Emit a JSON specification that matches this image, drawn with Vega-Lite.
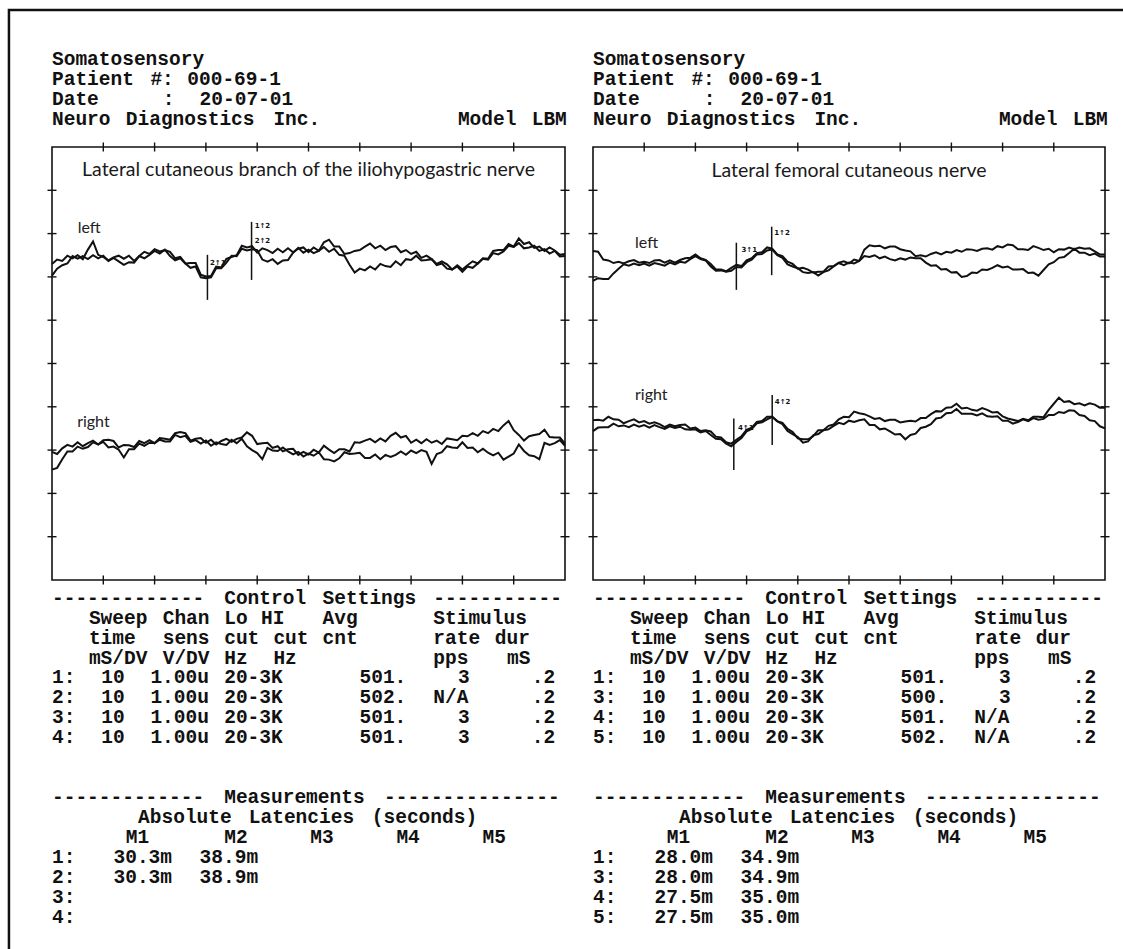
{
"$schema": "https://vega.github.io/schema/vega-lite/v6.json",
"width": 1114, "height": 939,
"autosize": {"type": "none"},
"padding": {"left": 9, "top": 10, "right": 0, "bottom": 0},
"background": "white",
"config": {"view": {"stroke": null}},
"datasets": {
"txt": [
{"p":"L","n":0,"c":0,"s":"Somatosensory"},
{"p":"L","n":1,"c":0,"s":"Patient"},{"p":"L","n":1,"c":8,"s":"#:"},{"p":"L","n":1,"c":11,"s":"000-69-1"},
{"p":"L","n":2,"c":0,"s":"Date"},{"p":"L","n":2,"c":9,"s":":"},{"p":"L","n":2,"c":12,"s":"20-07-01"},
{"p":"L","n":3,"c":0,"s":"Neuro"},{"p":"L","n":3,"c":6,"s":"Diagnostics"},{"p":"L","n":3,"c":18,"s":"Inc."},{"p":"L","n":3,"c":33,"s":"Model"},{"p":"L","n":3,"c":39,"s":"LBM"},
{"p":"L","n":27,"c":0,"s":"-------------"},{"p":"L","n":27,"c":14,"s":"Control"},{"p":"L","n":27,"c":22,"s":"Settings"},{"p":"L","n":27,"c":31,"s":"-----------"},
{"p":"L","n":28,"c":3,"s":"Sweep"},{"p":"L","n":28,"c":9,"s":"Chan"},{"p":"L","n":28,"c":14,"s":"Lo"},{"p":"L","n":28,"c":17,"s":"HI"},{"p":"L","n":28,"c":22,"s":"Avg"},{"p":"L","n":28,"c":31,"s":"Stimulus"},
{"p":"L","n":29,"c":3,"s":"time"},{"p":"L","n":29,"c":9,"s":"sens"},{"p":"L","n":29,"c":14,"s":"cut"},{"p":"L","n":29,"c":18,"s":"cut"},{"p":"L","n":29,"c":22,"s":"cnt"},{"p":"L","n":29,"c":31,"s":"rate"},{"p":"L","n":29,"c":36,"s":"dur"},
{"p":"L","n":30,"c":3,"s":"mS/DV"},{"p":"L","n":30,"c":9,"s":"V/DV"},{"p":"L","n":30,"c":14,"s":"Hz"},{"p":"L","n":30,"c":18,"s":"Hz"},{"p":"L","n":30,"c":31,"s":"pps"},{"p":"L","n":30,"c":37,"s":"mS"},
{"p":"L","n":31,"c":0,"s":"1:"},{"p":"L","n":31,"c":4,"s":"10"},{"p":"L","n":31,"c":8,"s":"1.00u"},{"p":"L","n":31,"c":14,"s":"20-3K"},{"p":"L","n":31,"c":25,"s":"501."},{"p":"L","n":31,"c":33,"s":"3"},{"p":"L","n":31,"c":39,"s":".2"},
{"p":"L","n":32,"c":0,"s":"2:"},{"p":"L","n":32,"c":4,"s":"10"},{"p":"L","n":32,"c":8,"s":"1.00u"},{"p":"L","n":32,"c":14,"s":"20-3K"},{"p":"L","n":32,"c":25,"s":"502."},{"p":"L","n":32,"c":31,"s":"N/A"},{"p":"L","n":32,"c":39,"s":".2"},
{"p":"L","n":33,"c":0,"s":"3:"},{"p":"L","n":33,"c":4,"s":"10"},{"p":"L","n":33,"c":8,"s":"1.00u"},{"p":"L","n":33,"c":14,"s":"20-3K"},{"p":"L","n":33,"c":25,"s":"501."},{"p":"L","n":33,"c":33,"s":"3"},{"p":"L","n":33,"c":39,"s":".2"},
{"p":"L","n":34,"c":0,"s":"4:"},{"p":"L","n":34,"c":4,"s":"10"},{"p":"L","n":34,"c":8,"s":"1.00u"},{"p":"L","n":34,"c":14,"s":"20-3K"},{"p":"L","n":34,"c":25,"s":"501."},{"p":"L","n":34,"c":33,"s":"3"},{"p":"L","n":34,"c":39,"s":".2"},
{"p":"L","n":37,"c":0,"s":"-------------"},{"p":"L","n":37,"c":14,"s":"Measurements"},{"p":"L","n":37,"c":27,"s":"---------------"},
{"p":"L","n":38,"c":7,"s":"Absolute"},{"p":"L","n":38,"c":16,"s":"Latencies"},{"p":"L","n":38,"c":26,"s":"(seconds)"},
{"p":"L","n":39,"c":6,"s":"M1"},{"p":"L","n":39,"c":14,"s":"M2"},{"p":"L","n":39,"c":21,"s":"M3"},{"p":"L","n":39,"c":28,"s":"M4"},{"p":"L","n":39,"c":35,"s":"M5"},
{"p":"L","n":40,"c":0,"s":"1:"},{"p":"L","n":40,"c":5,"s":"30.3m"},{"p":"L","n":40,"c":12,"s":"38.9m"},
{"p":"L","n":41,"c":0,"s":"2:"},{"p":"L","n":41,"c":5,"s":"30.3m"},{"p":"L","n":41,"c":12,"s":"38.9m"},
{"p":"L","n":42,"c":0,"s":"3:"},
{"p":"L","n":43,"c":0,"s":"4:"},
{"p":"R","n":0,"c":0,"s":"Somatosensory"},
{"p":"R","n":1,"c":0,"s":"Patient"},{"p":"R","n":1,"c":8,"s":"#:"},{"p":"R","n":1,"c":11,"s":"000-69-1"},
{"p":"R","n":2,"c":0,"s":"Date"},{"p":"R","n":2,"c":9,"s":":"},{"p":"R","n":2,"c":12,"s":"20-07-01"},
{"p":"R","n":3,"c":0,"s":"Neuro"},{"p":"R","n":3,"c":6,"s":"Diagnostics"},{"p":"R","n":3,"c":18,"s":"Inc."},{"p":"R","n":3,"c":33,"s":"Model"},{"p":"R","n":3,"c":39,"s":"LBM"},
{"p":"R","n":27,"c":0,"s":"-------------"},{"p":"R","n":27,"c":14,"s":"Control"},{"p":"R","n":27,"c":22,"s":"Settings"},{"p":"R","n":27,"c":31,"s":"-----------"},
{"p":"R","n":28,"c":3,"s":"Sweep"},{"p":"R","n":28,"c":9,"s":"Chan"},{"p":"R","n":28,"c":14,"s":"Lo"},{"p":"R","n":28,"c":17,"s":"HI"},{"p":"R","n":28,"c":22,"s":"Avg"},{"p":"R","n":28,"c":31,"s":"Stimulus"},
{"p":"R","n":29,"c":3,"s":"time"},{"p":"R","n":29,"c":9,"s":"sens"},{"p":"R","n":29,"c":14,"s":"cut"},{"p":"R","n":29,"c":18,"s":"cut"},{"p":"R","n":29,"c":22,"s":"cnt"},{"p":"R","n":29,"c":31,"s":"rate"},{"p":"R","n":29,"c":36,"s":"dur"},
{"p":"R","n":30,"c":3,"s":"mS/DV"},{"p":"R","n":30,"c":9,"s":"V/DV"},{"p":"R","n":30,"c":14,"s":"Hz"},{"p":"R","n":30,"c":18,"s":"Hz"},{"p":"R","n":30,"c":31,"s":"pps"},{"p":"R","n":30,"c":37,"s":"mS"},
{"p":"R","n":31,"c":0,"s":"1:"},{"p":"R","n":31,"c":4,"s":"10"},{"p":"R","n":31,"c":8,"s":"1.00u"},{"p":"R","n":31,"c":14,"s":"20-3K"},{"p":"R","n":31,"c":25,"s":"501."},{"p":"R","n":31,"c":33,"s":"3"},{"p":"R","n":31,"c":39,"s":".2"},
{"p":"R","n":32,"c":0,"s":"3:"},{"p":"R","n":32,"c":4,"s":"10"},{"p":"R","n":32,"c":8,"s":"1.00u"},{"p":"R","n":32,"c":14,"s":"20-3K"},{"p":"R","n":32,"c":25,"s":"500."},{"p":"R","n":32,"c":33,"s":"3"},{"p":"R","n":32,"c":39,"s":".2"},
{"p":"R","n":33,"c":0,"s":"4:"},{"p":"R","n":33,"c":4,"s":"10"},{"p":"R","n":33,"c":8,"s":"1.00u"},{"p":"R","n":33,"c":14,"s":"20-3K"},{"p":"R","n":33,"c":25,"s":"501."},{"p":"R","n":33,"c":31,"s":"N/A"},{"p":"R","n":33,"c":39,"s":".2"},
{"p":"R","n":34,"c":0,"s":"5:"},{"p":"R","n":34,"c":4,"s":"10"},{"p":"R","n":34,"c":8,"s":"1.00u"},{"p":"R","n":34,"c":14,"s":"20-3K"},{"p":"R","n":34,"c":25,"s":"502."},{"p":"R","n":34,"c":31,"s":"N/A"},{"p":"R","n":34,"c":39,"s":".2"},
{"p":"R","n":37,"c":0,"s":"-------------"},{"p":"R","n":37,"c":14,"s":"Measurements"},{"p":"R","n":37,"c":27,"s":"---------------"},
{"p":"R","n":38,"c":7,"s":"Absolute"},{"p":"R","n":38,"c":16,"s":"Latencies"},{"p":"R","n":38,"c":26,"s":"(seconds)"},
{"p":"R","n":39,"c":6,"s":"M1"},{"p":"R","n":39,"c":14,"s":"M2"},{"p":"R","n":39,"c":21,"s":"M3"},{"p":"R","n":39,"c":28,"s":"M4"},{"p":"R","n":39,"c":35,"s":"M5"},
{"p":"R","n":40,"c":0,"s":"1:"},{"p":"R","n":40,"c":5,"s":"28.0m"},{"p":"R","n":40,"c":12,"s":"34.9m"},
{"p":"R","n":41,"c":0,"s":"3:"},{"p":"R","n":41,"c":5,"s":"28.0m"},{"p":"R","n":41,"c":12,"s":"34.9m"},
{"p":"R","n":42,"c":0,"s":"4:"},{"p":"R","n":42,"c":5,"s":"27.5m"},{"p":"R","n":42,"c":12,"s":"35.0m"},
{"p":"R","n":43,"c":0,"s":"5:"},{"p":"R","n":43,"c":5,"s":"27.5m"},{"p":"R","n":43,"c":12,"s":"35.0m"}
],
"page": [{"c0":-3.5,"c1":95,"n0":-2.46,"n1":50}],
"tdiv": [{"t":10},{"t":20},{"t":30},{"t":40},{"t":50},{"t":60},{"t":70},{"t":80},{"t":90}],
"vdiv": [{"v":-4},{"v":-3},{"v":-2},{"v":-1},{"v":0},{"v":1},{"v":2},{"v":3},{"v":4}],
"frame": [{"t0":0,"t1":100,"v0":-5,"v1":5}],
"wl": [
{"s":"a","t":0,"v":2.30},{"s":"a","t":1,"v":2.40},{"s":"a","t":2,"v":2.37},{"s":"a","t":3,"v":2.49},{"s":"a","t":4,"v":2.43},{"s":"a","t":5,"v":2.50},{"s":"a","t":6,"v":2.41},{"s":"a","t":7,"v":2.63},{"s":"a","t":8,"v":2.82},{"s":"a","t":9,"v":2.51},{"s":"a","t":10,"v":2.46},{"s":"a","t":11,"v":2.38},{"s":"a","t":12,"v":2.45},{"s":"a","t":13,"v":2.49},{"s":"a","t":14,"v":2.42},{"s":"a","t":15,"v":2.49},{"s":"a","t":16,"v":2.37},{"s":"a","t":17,"v":2.48},{"s":"a","t":18,"v":2.58},{"s":"a","t":19,"v":2.53},{"s":"a","t":20,"v":2.64},{"s":"a","t":21,"v":2.59},{"s":"a","t":22,"v":2.62},{"s":"a","t":23,"v":2.58},{"s":"a","t":24,"v":2.43},{"s":"a","t":25,"v":2.46},{"s":"a","t":26,"v":2.31},{"s":"a","t":27,"v":2.32},{"s":"a","t":28,"v":2.32},{"s":"a","t":29,"v":2.05},{"s":"a","t":30,"v":2.01},{"s":"a","t":31,"v":2.02},{"s":"a","t":32,"v":2.24},{"s":"a","t":33,"v":2.22},{"s":"a","t":34,"v":2.42},{"s":"a","t":35,"v":2.46},{"s":"a","t":36,"v":2.50},{"s":"a","t":37,"v":2.72},{"s":"a","t":38,"v":2.68},{"s":"a","t":39,"v":2.71},{"s":"a","t":40,"v":2.56},{"s":"a","t":41,"v":2.66},{"s":"a","t":42,"v":2.62},{"s":"a","t":43,"v":2.55},{"s":"a","t":44,"v":2.65},{"s":"a","t":45,"v":2.57},{"s":"a","t":46,"v":2.66},{"s":"a","t":47,"v":2.57},{"s":"a","t":48,"v":2.65},{"s":"a","t":49,"v":2.68},{"s":"a","t":50,"v":2.57},{"s":"a","t":51,"v":2.68},{"s":"a","t":52,"v":2.60},{"s":"a","t":53,"v":2.80},{"s":"a","t":54,"v":2.86},{"s":"a","t":55,"v":2.70},{"s":"a","t":56,"v":2.70},{"s":"a","t":57,"v":2.53},{"s":"a","t":58,"v":2.55},{"s":"a","t":59,"v":2.60},{"s":"a","t":60,"v":2.62},{"s":"a","t":61,"v":2.70},{"s":"a","t":62,"v":2.77},{"s":"a","t":63,"v":2.66},{"s":"a","t":64,"v":2.72},{"s":"a","t":65,"v":2.62},{"s":"a","t":66,"v":2.69},{"s":"a","t":67,"v":2.71},{"s":"a","t":68,"v":2.57},{"s":"a","t":69,"v":2.62},{"s":"a","t":70,"v":2.53},{"s":"a","t":71,"v":2.58},{"s":"a","t":72,"v":2.44},{"s":"a","t":73,"v":2.49},{"s":"a","t":74,"v":2.41},{"s":"a","t":75,"v":2.30},{"s":"a","t":76,"v":2.36},{"s":"a","t":77,"v":2.29},{"s":"a","t":78,"v":2.17},{"s":"a","t":79,"v":2.27},{"s":"a","t":80,"v":2.17},{"s":"a","t":81,"v":2.27},{"s":"a","t":82,"v":2.36},{"s":"a","t":83,"v":2.31},{"s":"a","t":84,"v":2.43},{"s":"a","t":85,"v":2.42},{"s":"a","t":86,"v":2.60},{"s":"a","t":87,"v":2.62},{"s":"a","t":88,"v":2.62},{"s":"a","t":89,"v":2.76},{"s":"a","t":90,"v":2.70},{"s":"a","t":91,"v":2.89},{"s":"a","t":92,"v":2.76},{"s":"a","t":93,"v":2.80},{"s":"a","t":94,"v":2.67},{"s":"a","t":95,"v":2.70},{"s":"a","t":96,"v":2.60},{"s":"a","t":97,"v":2.68},{"s":"a","t":98,"v":2.61},{"s":"a","t":99,"v":2.51},{"s":"a","t":100,"v":2.53},
{"s":"b","t":0,"v":2.03},{"s":"b","t":1,"v":2.19},{"s":"b","t":2,"v":2.27},{"s":"b","t":3,"v":2.31},{"s":"b","t":4,"v":2.48},{"s":"b","t":5,"v":2.42},{"s":"b","t":6,"v":2.48},{"s":"b","t":7,"v":2.41},{"s":"b","t":8,"v":2.50},{"s":"b","t":9,"v":2.43},{"s":"b","t":10,"v":2.49},{"s":"b","t":11,"v":2.37},{"s":"b","t":12,"v":2.44},{"s":"b","t":13,"v":2.36},{"s":"b","t":14,"v":2.28},{"s":"b","t":15,"v":2.34},{"s":"b","t":16,"v":2.33},{"s":"b","t":17,"v":2.48},{"s":"b","t":18,"v":2.43},{"s":"b","t":19,"v":2.51},{"s":"b","t":20,"v":2.60},{"s":"b","t":21,"v":2.54},{"s":"b","t":22,"v":2.63},{"s":"b","t":23,"v":2.48},{"s":"b","t":24,"v":2.38},{"s":"b","t":25,"v":2.43},{"s":"b","t":26,"v":2.31},{"s":"b","t":27,"v":2.21},{"s":"b","t":28,"v":2.24},{"s":"b","t":29,"v":1.99},{"s":"b","t":30,"v":1.97},{"s":"b","t":31,"v":1.99},{"s":"b","t":32,"v":2.20},{"s":"b","t":33,"v":2.20},{"s":"b","t":34,"v":2.33},{"s":"b","t":35,"v":2.49},{"s":"b","t":36,"v":2.48},{"s":"b","t":37,"v":2.65},{"s":"b","t":38,"v":2.61},{"s":"b","t":39,"v":2.64},{"s":"b","t":40,"v":2.62},{"s":"b","t":41,"v":2.40},{"s":"b","t":42,"v":2.35},{"s":"b","t":43,"v":2.41},{"s":"b","t":44,"v":2.30},{"s":"b","t":45,"v":2.38},{"s":"b","t":46,"v":2.39},{"s":"b","t":47,"v":2.56},{"s":"b","t":48,"v":2.67},{"s":"b","t":49,"v":2.56},{"s":"b","t":50,"v":2.63},{"s":"b","t":51,"v":2.55},{"s":"b","t":52,"v":2.60},{"s":"b","t":53,"v":2.69},{"s":"b","t":54,"v":2.58},{"s":"b","t":55,"v":2.65},{"s":"b","t":56,"v":2.51},{"s":"b","t":57,"v":2.49},{"s":"b","t":58,"v":2.28},{"s":"b","t":59,"v":2.10},{"s":"b","t":60,"v":2.19},{"s":"b","t":61,"v":2.15},{"s":"b","t":62,"v":2.24},{"s":"b","t":63,"v":2.17},{"s":"b","t":64,"v":2.30},{"s":"b","t":65,"v":2.25},{"s":"b","t":66,"v":2.23},{"s":"b","t":67,"v":2.36},{"s":"b","t":68,"v":2.27},{"s":"b","t":69,"v":2.41},{"s":"b","t":70,"v":2.39},{"s":"b","t":71,"v":2.49},{"s":"b","t":72,"v":2.38},{"s":"b","t":73,"v":2.39},{"s":"b","t":74,"v":2.41},{"s":"b","t":75,"v":2.27},{"s":"b","t":76,"v":2.31},{"s":"b","t":77,"v":2.19},{"s":"b","t":78,"v":2.17},{"s":"b","t":79,"v":2.24},{"s":"b","t":80,"v":2.12},{"s":"b","t":81,"v":2.24},{"s":"b","t":82,"v":2.21},{"s":"b","t":83,"v":2.31},{"s":"b","t":84,"v":2.42},{"s":"b","t":85,"v":2.40},{"s":"b","t":86,"v":2.55},{"s":"b","t":87,"v":2.52},{"s":"b","t":88,"v":2.59},{"s":"b","t":89,"v":2.72},{"s":"b","t":90,"v":2.69},{"s":"b","t":91,"v":2.78},{"s":"b","t":92,"v":2.66},{"s":"b","t":93,"v":2.68},{"s":"b","t":94,"v":2.72},{"s":"b","t":95,"v":2.60},{"s":"b","t":96,"v":2.64},{"s":"b","t":97,"v":2.54},{"s":"b","t":98,"v":2.60},{"s":"b","t":99,"v":2.47},{"s":"b","t":100,"v":2.48},
{"s":"c","t":0,"v":-2.04},{"s":"c","t":1,"v":-2.09},{"s":"c","t":2,"v":-1.96},{"s":"c","t":3,"v":-1.88},{"s":"c","t":4,"v":-1.92},{"s":"c","t":5,"v":-1.82},{"s":"c","t":6,"v":-1.91},{"s":"c","t":7,"v":-1.84},{"s":"c","t":8,"v":-1.78},{"s":"c","t":9,"v":-1.87},{"s":"c","t":10,"v":-1.77},{"s":"c","t":11,"v":-1.76},{"s":"c","t":12,"v":-1.79},{"s":"c","t":13,"v":-1.94},{"s":"c","t":14,"v":-1.88},{"s":"c","t":15,"v":-1.89},{"s":"c","t":16,"v":-1.93},{"s":"c","t":17,"v":-1.79},{"s":"c","t":18,"v":-1.84},{"s":"c","t":19,"v":-1.77},{"s":"c","t":20,"v":-1.84},{"s":"c","t":21,"v":-1.72},{"s":"c","t":22,"v":-1.74},{"s":"c","t":23,"v":-1.76},{"s":"c","t":24,"v":-1.61},{"s":"c","t":25,"v":-1.58},{"s":"c","t":26,"v":-1.61},{"s":"c","t":27,"v":-1.78},{"s":"c","t":28,"v":-1.74},{"s":"c","t":29,"v":-1.72},{"s":"c","t":30,"v":-1.83},{"s":"c","t":31,"v":-1.76},{"s":"c","t":32,"v":-1.87},{"s":"c","t":33,"v":-1.79},{"s":"c","t":34,"v":-1.74},{"s":"c","t":35,"v":-1.81},{"s":"c","t":36,"v":-1.74},{"s":"c","t":37,"v":-1.71},{"s":"c","t":38,"v":-1.59},{"s":"c","t":39,"v":-1.67},{"s":"c","t":40,"v":-1.86},{"s":"c","t":41,"v":-1.84},{"s":"c","t":42,"v":-1.83},{"s":"c","t":43,"v":-1.95},{"s":"c","t":44,"v":-1.91},{"s":"c","t":45,"v":-2.03},{"s":"c","t":46,"v":-1.98},{"s":"c","t":47,"v":-1.97},{"s":"c","t":48,"v":-2.11},{"s":"c","t":49,"v":-2.04},{"s":"c","t":50,"v":-2.10},{"s":"c","t":51,"v":-1.99},{"s":"c","t":52,"v":-2.06},{"s":"c","t":53,"v":-1.90},{"s":"c","t":54,"v":-1.99},{"s":"c","t":55,"v":-2.07},{"s":"c","t":56,"v":-1.98},{"s":"c","t":57,"v":-1.98},{"s":"c","t":58,"v":-2.03},{"s":"c","t":59,"v":-1.82},{"s":"c","t":60,"v":-1.83},{"s":"c","t":61,"v":-1.78},{"s":"c","t":62,"v":-1.74},{"s":"c","t":63,"v":-1.82},{"s":"c","t":64,"v":-1.73},{"s":"c","t":65,"v":-1.80},{"s":"c","t":66,"v":-1.67},{"s":"c","t":67,"v":-1.60},{"s":"c","t":68,"v":-1.71},{"s":"c","t":69,"v":-1.67},{"s":"c","t":70,"v":-1.83},{"s":"c","t":71,"v":-1.76},{"s":"c","t":72,"v":-1.84},{"s":"c","t":73,"v":-1.75},{"s":"c","t":74,"v":-1.83},{"s":"c","t":75,"v":-1.78},{"s":"c","t":76,"v":-1.86},{"s":"c","t":77,"v":-1.73},{"s":"c","t":78,"v":-1.75},{"s":"c","t":79,"v":-1.77},{"s":"c","t":80,"v":-1.67},{"s":"c","t":81,"v":-1.68},{"s":"c","t":82,"v":-1.61},{"s":"c","t":83,"v":-1.67},{"s":"c","t":84,"v":-1.56},{"s":"c","t":85,"v":-1.61},{"s":"c","t":86,"v":-1.51},{"s":"c","t":87,"v":-1.56},{"s":"c","t":88,"v":-1.43},{"s":"c","t":89,"v":-1.33},{"s":"c","t":90,"v":-1.54},{"s":"c","t":91,"v":-1.65},{"s":"c","t":92,"v":-1.78},{"s":"c","t":93,"v":-1.68},{"s":"c","t":94,"v":-1.65},{"s":"c","t":95,"v":-1.63},{"s":"c","t":96,"v":-1.53},{"s":"c","t":97,"v":-1.70},{"s":"c","t":98,"v":-1.71},{"s":"c","t":99,"v":-1.71},{"s":"c","t":100,"v":-1.85},
{"s":"d","t":0,"v":-2.45},{"s":"d","t":1,"v":-2.41},{"s":"d","t":2,"v":-2.21},{"s":"d","t":3,"v":-2.03},{"s":"d","t":4,"v":-2.03},{"s":"d","t":5,"v":-1.92},{"s":"d","t":6,"v":-1.97},{"s":"d","t":7,"v":-1.93},{"s":"d","t":8,"v":-1.82},{"s":"d","t":9,"v":-1.87},{"s":"d","t":10,"v":-1.81},{"s":"d","t":11,"v":-1.94},{"s":"d","t":12,"v":-1.92},{"s":"d","t":13,"v":-1.99},{"s":"d","t":14,"v":-2.17},{"s":"d","t":15,"v":-1.98},{"s":"d","t":16,"v":-1.98},{"s":"d","t":17,"v":-1.85},{"s":"d","t":18,"v":-1.90},{"s":"d","t":19,"v":-1.83},{"s":"d","t":20,"v":-1.84},{"s":"d","t":21,"v":-1.76},{"s":"d","t":22,"v":-1.80},{"s":"d","t":23,"v":-1.80},{"s":"d","t":24,"v":-1.65},{"s":"d","t":25,"v":-1.70},{"s":"d","t":26,"v":-1.67},{"s":"d","t":27,"v":-1.81},{"s":"d","t":28,"v":-1.77},{"s":"d","t":29,"v":-1.85},{"s":"d","t":30,"v":-1.78},{"s":"d","t":31,"v":-1.90},{"s":"d","t":32,"v":-1.82},{"s":"d","t":33,"v":-1.86},{"s":"d","t":34,"v":-1.88},{"s":"d","t":35,"v":-1.76},{"s":"d","t":36,"v":-1.84},{"s":"d","t":37,"v":-1.74},{"s":"d","t":38,"v":-1.91},{"s":"d","t":39,"v":-2.00},{"s":"d","t":40,"v":-2.07},{"s":"d","t":41,"v":-2.21},{"s":"d","t":42,"v":-1.95},{"s":"d","t":43,"v":-2.01},{"s":"d","t":44,"v":-2.02},{"s":"d","t":45,"v":-1.94},{"s":"d","t":46,"v":-2.03},{"s":"d","t":47,"v":-2.10},{"s":"d","t":48,"v":-2.04},{"s":"d","t":49,"v":-2.15},{"s":"d","t":50,"v":-2.08},{"s":"d","t":51,"v":-2.13},{"s":"d","t":52,"v":-2.05},{"s":"d","t":53,"v":-2.21},{"s":"d","t":54,"v":-2.22},{"s":"d","t":55,"v":-2.26},{"s":"d","t":56,"v":-2.19},{"s":"d","t":57,"v":-2.05},{"s":"d","t":58,"v":-2.09},{"s":"d","t":59,"v":-2.08},{"s":"d","t":60,"v":-2.06},{"s":"d","t":61,"v":-2.18},{"s":"d","t":62,"v":-2.18},{"s":"d","t":63,"v":-2.10},{"s":"d","t":64,"v":-2.21},{"s":"d","t":65,"v":-2.11},{"s":"d","t":66,"v":-2.16},{"s":"d","t":67,"v":-2.11},{"s":"d","t":68,"v":-2.03},{"s":"d","t":69,"v":-2.11},{"s":"d","t":70,"v":-2.01},{"s":"d","t":71,"v":-2.07},{"s":"d","t":72,"v":-2.00},{"s":"d","t":73,"v":-2.04},{"s":"d","t":74,"v":-2.32},{"s":"d","t":75,"v":-2.09},{"s":"d","t":76,"v":-2.05},{"s":"d","t":77,"v":-1.91},{"s":"d","t":78,"v":-1.94},{"s":"d","t":79,"v":-1.95},{"s":"d","t":80,"v":-1.82},{"s":"d","t":81,"v":-1.95},{"s":"d","t":82,"v":-1.94},{"s":"d","t":83,"v":-2.05},{"s":"d","t":84,"v":-1.97},{"s":"d","t":85,"v":-2.06},{"s":"d","t":86,"v":-2.12},{"s":"d","t":87,"v":-2.06},{"s":"d","t":88,"v":-2.22},{"s":"d","t":89,"v":-2.15},{"s":"d","t":90,"v":-2.08},{"s":"d","t":91,"v":-1.87},{"s":"d","t":92,"v":-2.02},{"s":"d","t":93,"v":-2.12},{"s":"d","t":94,"v":-2.14},{"s":"d","t":95,"v":-2.21},{"s":"d","t":96,"v":-1.83},{"s":"d","t":97,"v":-1.88},{"s":"d","t":98,"v":-1.84},{"s":"d","t":99,"v":-1.77},{"s":"d","t":100,"v":-1.90}
],
"wr": [
{"s":"a","t":0,"v":2.60},{"s":"a","t":1,"v":2.58},{"s":"a","t":2,"v":2.40},{"s":"a","t":3,"v":2.38},{"s":"a","t":4,"v":2.32},{"s":"a","t":5,"v":2.35},{"s":"a","t":6,"v":2.31},{"s":"a","t":7,"v":2.36},{"s":"a","t":8,"v":2.39},{"s":"a","t":9,"v":2.33},{"s":"a","t":10,"v":2.35},{"s":"a","t":11,"v":2.32},{"s":"a","t":12,"v":2.38},{"s":"a","t":13,"v":2.39},{"s":"a","t":14,"v":2.33},{"s":"a","t":15,"v":2.38},{"s":"a","t":16,"v":2.33},{"s":"a","t":17,"v":2.39},{"s":"a","t":18,"v":2.43},{"s":"a","t":19,"v":2.44},{"s":"a","t":20,"v":2.52},{"s":"a","t":21,"v":2.43},{"s":"a","t":22,"v":2.39},{"s":"a","t":23,"v":2.30},{"s":"a","t":24,"v":2.17},{"s":"a","t":25,"v":2.17},{"s":"a","t":26,"v":2.13},{"s":"a","t":27,"v":2.21},{"s":"a","t":28,"v":2.28},{"s":"a","t":29,"v":2.25},{"s":"a","t":30,"v":2.38},{"s":"a","t":31,"v":2.43},{"s":"a","t":32,"v":2.55},{"s":"a","t":33,"v":2.57},{"s":"a","t":34,"v":2.68},{"s":"a","t":35,"v":2.65},{"s":"a","t":36,"v":2.52},{"s":"a","t":37,"v":2.48},{"s":"a","t":38,"v":2.35},{"s":"a","t":39,"v":2.30},{"s":"a","t":40,"v":2.19},{"s":"a","t":41,"v":2.21},{"s":"a","t":42,"v":2.17},{"s":"a","t":43,"v":2.10},{"s":"a","t":44,"v":2.12},{"s":"a","t":45,"v":2.12},{"s":"a","t":46,"v":2.24},{"s":"a","t":47,"v":2.25},{"s":"a","t":48,"v":2.33},{"s":"a","t":49,"v":2.36},{"s":"a","t":50,"v":2.31},{"s":"a","t":51,"v":2.40},{"s":"a","t":52,"v":2.37},{"s":"a","t":53,"v":2.63},{"s":"a","t":54,"v":2.73},{"s":"a","t":55,"v":2.71},{"s":"a","t":56,"v":2.72},{"s":"a","t":57,"v":2.66},{"s":"a","t":58,"v":2.70},{"s":"a","t":59,"v":2.70},{"s":"a","t":60,"v":2.64},{"s":"a","t":61,"v":2.61},{"s":"a","t":62,"v":2.59},{"s":"a","t":63,"v":2.48},{"s":"a","t":64,"v":2.50},{"s":"a","t":65,"v":2.47},{"s":"a","t":66,"v":2.53},{"s":"a","t":67,"v":2.57},{"s":"a","t":68,"v":2.52},{"s":"a","t":69,"v":2.58},{"s":"a","t":70,"v":2.56},{"s":"a","t":71,"v":2.62},{"s":"a","t":72,"v":2.58},{"s":"a","t":73,"v":2.64},{"s":"a","t":74,"v":2.63},{"s":"a","t":75,"v":2.60},{"s":"a","t":76,"v":2.65},{"s":"a","t":77,"v":2.66},{"s":"a","t":78,"v":2.63},{"s":"a","t":79,"v":2.71},{"s":"a","t":80,"v":2.68},{"s":"a","t":81,"v":2.75},{"s":"a","t":82,"v":2.73},{"s":"a","t":83,"v":2.64},{"s":"a","t":84,"v":2.64},{"s":"a","t":85,"v":2.62},{"s":"a","t":86,"v":2.71},{"s":"a","t":87,"v":2.67},{"s":"a","t":88,"v":2.62},{"s":"a","t":89,"v":2.65},{"s":"a","t":90,"v":2.57},{"s":"a","t":91,"v":2.64},{"s":"a","t":92,"v":2.63},{"s":"a","t":93,"v":2.68},{"s":"a","t":94,"v":2.64},{"s":"a","t":95,"v":2.68},{"s":"a","t":96,"v":2.65},{"s":"a","t":97,"v":2.66},{"s":"a","t":98,"v":2.59},{"s":"a","t":99,"v":2.52},{"s":"a","t":100,"v":2.52},
{"s":"b","t":0,"v":1.91},{"s":"b","t":1,"v":1.97},{"s":"b","t":2,"v":1.95},{"s":"b","t":3,"v":1.95},{"s":"b","t":4,"v":2.08},{"s":"b","t":5,"v":2.19},{"s":"b","t":6,"v":2.29},{"s":"b","t":7,"v":2.26},{"s":"b","t":8,"v":2.31},{"s":"b","t":9,"v":2.27},{"s":"b","t":10,"v":2.31},{"s":"b","t":11,"v":2.26},{"s":"b","t":12,"v":2.32},{"s":"b","t":13,"v":2.29},{"s":"b","t":14,"v":2.26},{"s":"b","t":15,"v":2.33},{"s":"b","t":16,"v":2.29},{"s":"b","t":17,"v":2.35},{"s":"b","t":18,"v":2.33},{"s":"b","t":19,"v":2.41},{"s":"b","t":20,"v":2.48},{"s":"b","t":21,"v":2.41},{"s":"b","t":22,"v":2.38},{"s":"b","t":23,"v":2.24},{"s":"b","t":24,"v":2.14},{"s":"b","t":25,"v":2.15},{"s":"b","t":26,"v":2.12},{"s":"b","t":27,"v":2.14},{"s":"b","t":28,"v":2.23},{"s":"b","t":29,"v":2.22},{"s":"b","t":30,"v":2.34},{"s":"b","t":31,"v":2.40},{"s":"b","t":32,"v":2.52},{"s":"b","t":33,"v":2.53},{"s":"b","t":34,"v":2.61},{"s":"b","t":35,"v":2.63},{"s":"b","t":36,"v":2.50},{"s":"b","t":37,"v":2.44},{"s":"b","t":38,"v":2.29},{"s":"b","t":39,"v":2.24},{"s":"b","t":40,"v":2.20},{"s":"b","t":41,"v":2.11},{"s":"b","t":42,"v":2.09},{"s":"b","t":43,"v":2.11},{"s":"b","t":44,"v":2.03},{"s":"b","t":45,"v":2.11},{"s":"b","t":46,"v":2.15},{"s":"b","t":47,"v":2.24},{"s":"b","t":48,"v":2.32},{"s":"b","t":49,"v":2.27},{"s":"b","t":50,"v":2.33},{"s":"b","t":51,"v":2.31},{"s":"b","t":52,"v":2.37},{"s":"b","t":53,"v":2.48},{"s":"b","t":54,"v":2.46},{"s":"b","t":55,"v":2.50},{"s":"b","t":56,"v":2.43},{"s":"b","t":57,"v":2.47},{"s":"b","t":58,"v":2.41},{"s":"b","t":59,"v":2.38},{"s":"b","t":60,"v":2.43},{"s":"b","t":61,"v":2.40},{"s":"b","t":62,"v":2.45},{"s":"b","t":63,"v":2.43},{"s":"b","t":64,"v":2.43},{"s":"b","t":65,"v":2.33},{"s":"b","t":66,"v":2.26},{"s":"b","t":67,"v":2.27},{"s":"b","t":68,"v":2.17},{"s":"b","t":69,"v":2.18},{"s":"b","t":70,"v":2.10},{"s":"b","t":71,"v":2.11},{"s":"b","t":72,"v":2.00},{"s":"b","t":73,"v":2.02},{"s":"b","t":74,"v":2.10},{"s":"b","t":75,"v":2.09},{"s":"b","t":76,"v":2.17},{"s":"b","t":77,"v":2.16},{"s":"b","t":78,"v":2.21},{"s":"b","t":79,"v":2.27},{"s":"b","t":80,"v":2.22},{"s":"b","t":81,"v":2.24},{"s":"b","t":82,"v":2.17},{"s":"b","t":83,"v":2.17},{"s":"b","t":84,"v":2.18},{"s":"b","t":85,"v":2.09},{"s":"b","t":86,"v":2.10},{"s":"b","t":87,"v":2.03},{"s":"b","t":88,"v":2.16},{"s":"b","t":89,"v":2.29},{"s":"b","t":90,"v":2.34},{"s":"b","t":91,"v":2.44},{"s":"b","t":92,"v":2.46},{"s":"b","t":93,"v":2.55},{"s":"b","t":94,"v":2.65},{"s":"b","t":95,"v":2.56},{"s":"b","t":96,"v":2.56},{"s":"b","t":97,"v":2.50},{"s":"b","t":98,"v":2.54},{"s":"b","t":99,"v":2.47},{"s":"b","t":100,"v":2.47},
{"s":"c","t":0,"v":-1.31},{"s":"c","t":1,"v":-1.30},{"s":"c","t":2,"v":-1.32},{"s":"c","t":3,"v":-1.23},{"s":"c","t":4,"v":-1.29},{"s":"c","t":5,"v":-1.30},{"s":"c","t":6,"v":-1.38},{"s":"c","t":7,"v":-1.33},{"s":"c","t":8,"v":-1.29},{"s":"c","t":9,"v":-1.36},{"s":"c","t":10,"v":-1.33},{"s":"c","t":11,"v":-1.39},{"s":"c","t":12,"v":-1.36},{"s":"c","t":13,"v":-1.40},{"s":"c","t":14,"v":-1.47},{"s":"c","t":15,"v":-1.41},{"s":"c","t":16,"v":-1.45},{"s":"c","t":17,"v":-1.42},{"s":"c","t":18,"v":-1.41},{"s":"c","t":19,"v":-1.50},{"s":"c","t":20,"v":-1.48},{"s":"c","t":21,"v":-1.56},{"s":"c","t":22,"v":-1.54},{"s":"c","t":23,"v":-1.57},{"s":"c","t":24,"v":-1.69},{"s":"c","t":25,"v":-1.71},{"s":"c","t":26,"v":-1.82},{"s":"c","t":27,"v":-1.85},{"s":"c","t":28,"v":-1.76},{"s":"c","t":29,"v":-1.68},{"s":"c","t":30,"v":-1.53},{"s":"c","t":31,"v":-1.48},{"s":"c","t":32,"v":-1.35},{"s":"c","t":33,"v":-1.33},{"s":"c","t":34,"v":-1.23},{"s":"c","t":35,"v":-1.23},{"s":"c","t":36,"v":-1.33},{"s":"c","t":37,"v":-1.37},{"s":"c","t":38,"v":-1.51},{"s":"c","t":39,"v":-1.58},{"s":"c","t":40,"v":-1.73},{"s":"c","t":41,"v":-1.75},{"s":"c","t":42,"v":-1.75},{"s":"c","t":43,"v":-1.68},{"s":"c","t":44,"v":-1.54},{"s":"c","t":45,"v":-1.54},{"s":"c","t":46,"v":-1.44},{"s":"c","t":47,"v":-1.41},{"s":"c","t":48,"v":-1.29},{"s":"c","t":49,"v":-1.23},{"s":"c","t":50,"v":-1.24},{"s":"c","t":51,"v":-1.11},{"s":"c","t":52,"v":-1.15},{"s":"c","t":53,"v":-1.17},{"s":"c","t":54,"v":-1.22},{"s":"c","t":55,"v":-1.28},{"s":"c","t":56,"v":-1.26},{"s":"c","t":57,"v":-1.33},{"s":"c","t":58,"v":-1.30},{"s":"c","t":59,"v":-1.30},{"s":"c","t":60,"v":-1.36},{"s":"c","t":61,"v":-1.34},{"s":"c","t":62,"v":-1.32},{"s":"c","t":63,"v":-1.34},{"s":"c","t":64,"v":-1.26},{"s":"c","t":65,"v":-1.26},{"s":"c","t":66,"v":-1.17},{"s":"c","t":67,"v":-1.10},{"s":"c","t":68,"v":-1.11},{"s":"c","t":69,"v":-1.02},{"s":"c","t":70,"v":-1.01},{"s":"c","t":71,"v":-0.93},{"s":"c","t":72,"v":-1.04},{"s":"c","t":73,"v":-1.02},{"s":"c","t":74,"v":-1.07},{"s":"c","t":75,"v":-1.09},{"s":"c","t":76,"v":-1.03},{"s":"c","t":77,"v":-1.07},{"s":"c","t":78,"v":-1.13},{"s":"c","t":79,"v":-1.12},{"s":"c","t":80,"v":-1.22},{"s":"c","t":81,"v":-1.27},{"s":"c","t":82,"v":-1.30},{"s":"c","t":83,"v":-1.33},{"s":"c","t":84,"v":-1.28},{"s":"c","t":85,"v":-1.31},{"s":"c","t":86,"v":-1.23},{"s":"c","t":87,"v":-1.23},{"s":"c","t":88,"v":-1.24},{"s":"c","t":89,"v":-1.07},{"s":"c","t":90,"v":-0.93},{"s":"c","t":91,"v":-0.79},{"s":"c","t":92,"v":-0.89},{"s":"c","t":93,"v":-0.87},{"s":"c","t":94,"v":-0.94},{"s":"c","t":95,"v":-0.92},{"s":"c","t":96,"v":-0.97},{"s":"c","t":97,"v":-0.92},{"s":"c","t":98,"v":-0.95},{"s":"c","t":99,"v":-1.02},{"s":"c","t":100,"v":-1.02},
{"s":"d","t":0,"v":-1.56},{"s":"d","t":1,"v":-1.48},{"s":"d","t":2,"v":-1.47},{"s":"d","t":3,"v":-1.47},{"s":"d","t":4,"v":-1.39},{"s":"d","t":5,"v":-1.45},{"s":"d","t":6,"v":-1.43},{"s":"d","t":7,"v":-1.47},{"s":"d","t":8,"v":-1.41},{"s":"d","t":9,"v":-1.46},{"s":"d","t":10,"v":-1.42},{"s":"d","t":11,"v":-1.48},{"s":"d","t":12,"v":-1.42},{"s":"d","t":13,"v":-1.47},{"s":"d","t":14,"v":-1.51},{"s":"d","t":15,"v":-1.45},{"s":"d","t":16,"v":-1.49},{"s":"d","t":17,"v":-1.46},{"s":"d","t":18,"v":-1.52},{"s":"d","t":19,"v":-1.53},{"s":"d","t":20,"v":-1.52},{"s":"d","t":21,"v":-1.59},{"s":"d","t":22,"v":-1.56},{"s":"d","t":23,"v":-1.65},{"s":"d","t":24,"v":-1.74},{"s":"d","t":25,"v":-1.75},{"s":"d","t":26,"v":-1.85},{"s":"d","t":27,"v":-1.91},{"s":"d","t":28,"v":-1.81},{"s":"d","t":29,"v":-1.72},{"s":"d","t":30,"v":-1.57},{"s":"d","t":31,"v":-1.51},{"s":"d","t":32,"v":-1.38},{"s":"d","t":33,"v":-1.36},{"s":"d","t":34,"v":-1.29},{"s":"d","t":35,"v":-1.23},{"s":"d","t":36,"v":-1.34},{"s":"d","t":37,"v":-1.40},{"s":"d","t":38,"v":-1.56},{"s":"d","t":39,"v":-1.63},{"s":"d","t":40,"v":-1.70},{"s":"d","t":41,"v":-1.83},{"s":"d","t":42,"v":-1.80},{"s":"d","t":43,"v":-1.66},{"s":"d","t":44,"v":-1.63},{"s":"d","t":45,"v":-1.54},{"s":"d","t":46,"v":-1.52},{"s":"d","t":47,"v":-1.44},{"s":"d","t":48,"v":-1.37},{"s":"d","t":49,"v":-1.40},{"s":"d","t":50,"v":-1.32},{"s":"d","t":51,"v":-1.35},{"s":"d","t":52,"v":-1.31},{"s":"d","t":53,"v":-1.29},{"s":"d","t":54,"v":-1.42},{"s":"d","t":55,"v":-1.42},{"s":"d","t":56,"v":-1.52},{"s":"d","t":57,"v":-1.50},{"s":"d","t":58,"v":-1.57},{"s":"d","t":59,"v":-1.64},{"s":"d","t":60,"v":-1.63},{"s":"d","t":61,"v":-1.75},{"s":"d","t":62,"v":-1.65},{"s":"d","t":63,"v":-1.62},{"s":"d","t":64,"v":-1.49},{"s":"d","t":65,"v":-1.46},{"s":"d","t":66,"v":-1.40},{"s":"d","t":67,"v":-1.27},{"s":"d","t":68,"v":-1.25},{"s":"d","t":69,"v":-1.15},{"s":"d","t":70,"v":-1.14},{"s":"d","t":71,"v":-1.05},{"s":"d","t":72,"v":-1.16},{"s":"d","t":73,"v":-1.16},{"s":"d","t":74,"v":-1.16},{"s":"d","t":75,"v":-1.20},{"s":"d","t":76,"v":-1.15},{"s":"d","t":77,"v":-1.22},{"s":"d","t":78,"v":-1.23},{"s":"d","t":79,"v":-1.22},{"s":"d","t":80,"v":-1.32},{"s":"d","t":81,"v":-1.32},{"s":"d","t":82,"v":-1.39},{"s":"d","t":83,"v":-1.35},{"s":"d","t":84,"v":-1.29},{"s":"d","t":85,"v":-1.33},{"s":"d","t":86,"v":-1.26},{"s":"d","t":87,"v":-1.30},{"s":"d","t":88,"v":-1.28},{"s":"d","t":89,"v":-1.19},{"s":"d","t":90,"v":-1.19},{"s":"d","t":91,"v":-1.12},{"s":"d","t":92,"v":-1.14},{"s":"d","t":93,"v":-1.08},{"s":"d","t":94,"v":-1.09},{"s":"d","t":95,"v":-1.19},{"s":"d","t":96,"v":-1.21},{"s":"d","t":97,"v":-1.31},{"s":"d","t":98,"v":-1.33},{"s":"d","t":99,"v":-1.45},{"s":"d","t":100,"v":-1.50}
]
},
"resolve": {"scale": {"x": "independent", "y": "independent"}},
"layer": [
{
 "layer": [
  {"data": {"name": "page"}, "mark": {"type": "rect", "fillOpacity": 0, "stroke": "#111", "strokeWidth": 2.5},
   "encoding": {
    "x": {"field": "c0", "type": "quantitative", "scale": {"domain": [0, 42], "range": [43, 559.6], "nice": false, "zero": false}, "axis": null},
    "x2": {"field": "c1"},
    "y": {"field": "n0", "type": "quantitative", "scale": {"domain": [0, 43], "range": [49, 906.85], "nice": false, "zero": false}, "axis": null},
    "y2": {"field": "n1"}}},
  {"data": {"name": "txt"},
   "transform": [{"filter": "datum.p == 'L'"}],
   "mark": {"type": "text", "font": "Liberation Mono", "fontWeight": "bold", "fontSize": 19.5, "align": "left", "baseline": "middle", "fill": "#111"},
   "encoding": {
    "x": {"field": "c", "type": "quantitative", "axis": null},
    "y": {"field": "n", "type": "quantitative", "axis": null},
    "text": {"field": "s"}}}
 ]
},
{
 "data": {"name": "txt"},
 "transform": [{"filter": "datum.p == 'R'"}],
 "mark": {"type": "text", "font": "Liberation Mono", "fontWeight": "bold", "fontSize": 19.5, "align": "left", "baseline": "middle", "fill": "#111"},
 "encoding": {
  "x": {"field": "c", "type": "quantitative", "scale": {"domain": [0, 42], "range": [584, 1100.6], "nice": false, "zero": false}, "axis": null},
  "y": {"field": "n", "type": "quantitative", "scale": {"domain": [0, 43], "range": [49, 906.85], "nice": false, "zero": false}, "axis": null},
  "text": {"field": "s"}
 }
},
{
 "layer": [
  {"data": {"name": "frame"}, "mark": {"type": "rect", "fillOpacity": 0, "stroke": "#111", "strokeWidth": 1.6},
   "encoding": {
    "x": {"field": "t0", "type": "quantitative", "scale": {"domain": [0, 100], "range": [43, 556], "nice": false, "zero": false}, "axis": null},
    "x2": {"field": "t1"},
    "y": {"field": "v0", "type": "quantitative", "scale": {"domain": [-5, 5], "range": [570, 137], "nice": false, "zero": false}, "axis": null},
    "y2": {"field": "v1"}}},
  {"data": {"name": "tdiv"}, "mark": {"type": "tick", "orient": "vertical", "size": 9, "thickness": 1.4, "color": "#111", "opacity": 1},
   "encoding": {"x": {"field": "t", "type": "quantitative", "axis": null}, "y": {"datum": 5, "type": "quantitative", "axis": null}}},
  {"data": {"name": "tdiv"}, "mark": {"type": "tick", "orient": "vertical", "size": 9, "thickness": 1.4, "color": "#111", "opacity": 1},
   "encoding": {"x": {"field": "t", "type": "quantitative", "axis": null}, "y": {"datum": -5, "type": "quantitative", "axis": null}}},
  {"data": {"name": "vdiv"}, "mark": {"type": "tick", "orient": "horizontal", "size": 9, "thickness": 1.4, "color": "#111", "opacity": 1},
   "encoding": {"y": {"field": "v", "type": "quantitative", "axis": null}, "x": {"datum": 0, "type": "quantitative", "axis": null}}},
  {"data": {"name": "vdiv"}, "mark": {"type": "tick", "orient": "horizontal", "size": 9, "thickness": 1.4, "color": "#111", "opacity": 1},
   "encoding": {"y": {"field": "v", "type": "quantitative", "axis": null}, "x": {"datum": 100, "type": "quantitative", "axis": null}}},
  {"data": {"name": "wl"}, "mark": {"type": "line", "stroke": "#111", "strokeWidth": 2},
   "encoding": {"x": {"field": "t", "type": "quantitative", "axis": null}, "y": {"field": "v", "type": "quantitative", "axis": null}, "detail": {"field": "s"}}},
  {"data": {"values": [{"t": 30.3, "v0": 1.47, "v1": 2.51}, {"t": 38.9, "v0": 1.93, "v1": 3.27}]},
   "mark": {"type": "rule", "stroke": "#111", "strokeWidth": 1.5},
   "encoding": {"x": {"field": "t", "type": "quantitative", "axis": null}, "y": {"field": "v0", "type": "quantitative", "axis": null}, "y2": {"field": "v1"}}},
  {"data": {"values": [{"t": 39.5, "v": 3.18, "s": "1↑2"}, {"t": 39.5, "v": 2.84, "s": "2↑2"}, {"t": 30.8, "v": 2.33, "s": "2↑1"}]},
   "mark": {"type": "text", "fontSize": 7, "fontWeight": "bold", "align": "left", "baseline": "middle", "fill": "#111", "font": "DejaVu Sans"},
   "encoding": {"x": {"field": "t", "type": "quantitative", "axis": null}, "y": {"field": "v", "type": "quantitative", "axis": null}, "text": {"field": "s"}}},
  {"data": {"values": [{"t": 5.0, "v": 3.13, "s": "left"}, {"t": 4.9, "v": -1.35, "s": "right"}]},
   "mark": {"type": "text", "font": "Lato", "fontSize": 16, "align": "left", "baseline": "middle", "fill": "#222"},
   "encoding": {"x": {"field": "t", "type": "quantitative", "axis": null}, "y": {"field": "v", "type": "quantitative", "axis": null}, "text": {"field": "s"}}},
  {"data": {"values": [{"t": 50, "v": 4.47, "s": "Lateral cutaneous branch of the iliohypogastric nerve"}]},
   "mark": {"type": "text", "font": "Lato", "fontSize": 19.5, "align": "center", "baseline": "middle", "fill": "#1a1a1a"},
   "encoding": {"x": {"field": "t", "type": "quantitative", "axis": null}, "y": {"field": "v", "type": "quantitative", "axis": null}, "text": {"field": "s"}}}
 ]
},
{
 "layer": [
  {"data": {"name": "frame"}, "mark": {"type": "rect", "fillOpacity": 0, "stroke": "#111", "strokeWidth": 1.6},
   "encoding": {
    "x": {"field": "t0", "type": "quantitative", "scale": {"domain": [0, 100], "range": [584, 1096], "nice": false, "zero": false}, "axis": null},
    "x2": {"field": "t1"},
    "y": {"field": "v0", "type": "quantitative", "scale": {"domain": [-5, 5], "range": [570, 137], "nice": false, "zero": false}, "axis": null},
    "y2": {"field": "v1"}}},
  {"data": {"name": "tdiv"}, "mark": {"type": "tick", "orient": "vertical", "size": 9, "thickness": 1.4, "color": "#111", "opacity": 1},
   "encoding": {"x": {"field": "t", "type": "quantitative", "axis": null}, "y": {"datum": 5, "type": "quantitative", "axis": null}}},
  {"data": {"name": "tdiv"}, "mark": {"type": "tick", "orient": "vertical", "size": 9, "thickness": 1.4, "color": "#111", "opacity": 1},
   "encoding": {"x": {"field": "t", "type": "quantitative", "axis": null}, "y": {"datum": -5, "type": "quantitative", "axis": null}}},
  {"data": {"name": "vdiv"}, "mark": {"type": "tick", "orient": "horizontal", "size": 9, "thickness": 1.4, "color": "#111", "opacity": 1},
   "encoding": {"y": {"field": "v", "type": "quantitative", "axis": null}, "x": {"datum": 0, "type": "quantitative", "axis": null}}},
  {"data": {"name": "vdiv"}, "mark": {"type": "tick", "orient": "horizontal", "size": 9, "thickness": 1.4, "color": "#111", "opacity": 1},
   "encoding": {"y": {"field": "v", "type": "quantitative", "axis": null}, "x": {"datum": 100, "type": "quantitative", "axis": null}}},
  {"data": {"name": "wr"}, "mark": {"type": "line", "stroke": "#111", "strokeWidth": 2},
   "encoding": {"x": {"field": "t", "type": "quantitative", "axis": null}, "y": {"field": "v", "type": "quantitative", "axis": null}, "detail": {"field": "s"}}},
  {"data": {"values": [{"t": 28.0, "v0": 1.70, "v1": 2.79}, {"t": 34.9, "v0": 2.04, "v1": 3.16}, {"t": 27.5, "v0": -2.46, "v1": -1.27}, {"t": 35.0, "v0": -1.88, "v1": -0.73}]},
   "mark": {"type": "rule", "stroke": "#111", "strokeWidth": 1.5},
   "encoding": {"x": {"field": "t", "type": "quantitative", "axis": null}, "y": {"field": "v0", "type": "quantitative", "axis": null}, "y2": {"field": "v1"}}},
  {"data": {"values": [{"t": 29.0, "v": 2.62, "s": "3↑1"}, {"t": 35.4, "v": 3.02, "s": "1↑2"}, {"t": 28.3, "v": -1.50, "s": "4↑1"}, {"t": 35.5, "v": -0.90, "s": "4↑2"}]},
   "mark": {"type": "text", "fontSize": 7, "fontWeight": "bold", "align": "left", "baseline": "middle", "fill": "#111", "font": "DejaVu Sans"},
   "encoding": {"x": {"field": "t", "type": "quantitative", "axis": null}, "y": {"field": "v", "type": "quantitative", "axis": null}, "text": {"field": "s"}}},
  {"data": {"values": [{"t": 8.2, "v": 2.78, "s": "left"}, {"t": 8.2, "v": -0.73, "s": "right"}]},
   "mark": {"type": "text", "font": "Lato", "fontSize": 16, "align": "left", "baseline": "middle", "fill": "#222"},
   "encoding": {"x": {"field": "t", "type": "quantitative", "axis": null}, "y": {"field": "v", "type": "quantitative", "axis": null}, "text": {"field": "s"}}},
  {"data": {"values": [{"t": 50, "v": 4.45, "s": "Lateral femoral cutaneous nerve"}]},
   "mark": {"type": "text", "font": "Lato", "fontSize": 19.5, "align": "center", "baseline": "middle", "fill": "#1a1a1a"},
   "encoding": {"x": {"field": "t", "type": "quantitative", "axis": null}, "y": {"field": "v", "type": "quantitative", "axis": null}, "text": {"field": "s"}}}
 ]
}
]
}
